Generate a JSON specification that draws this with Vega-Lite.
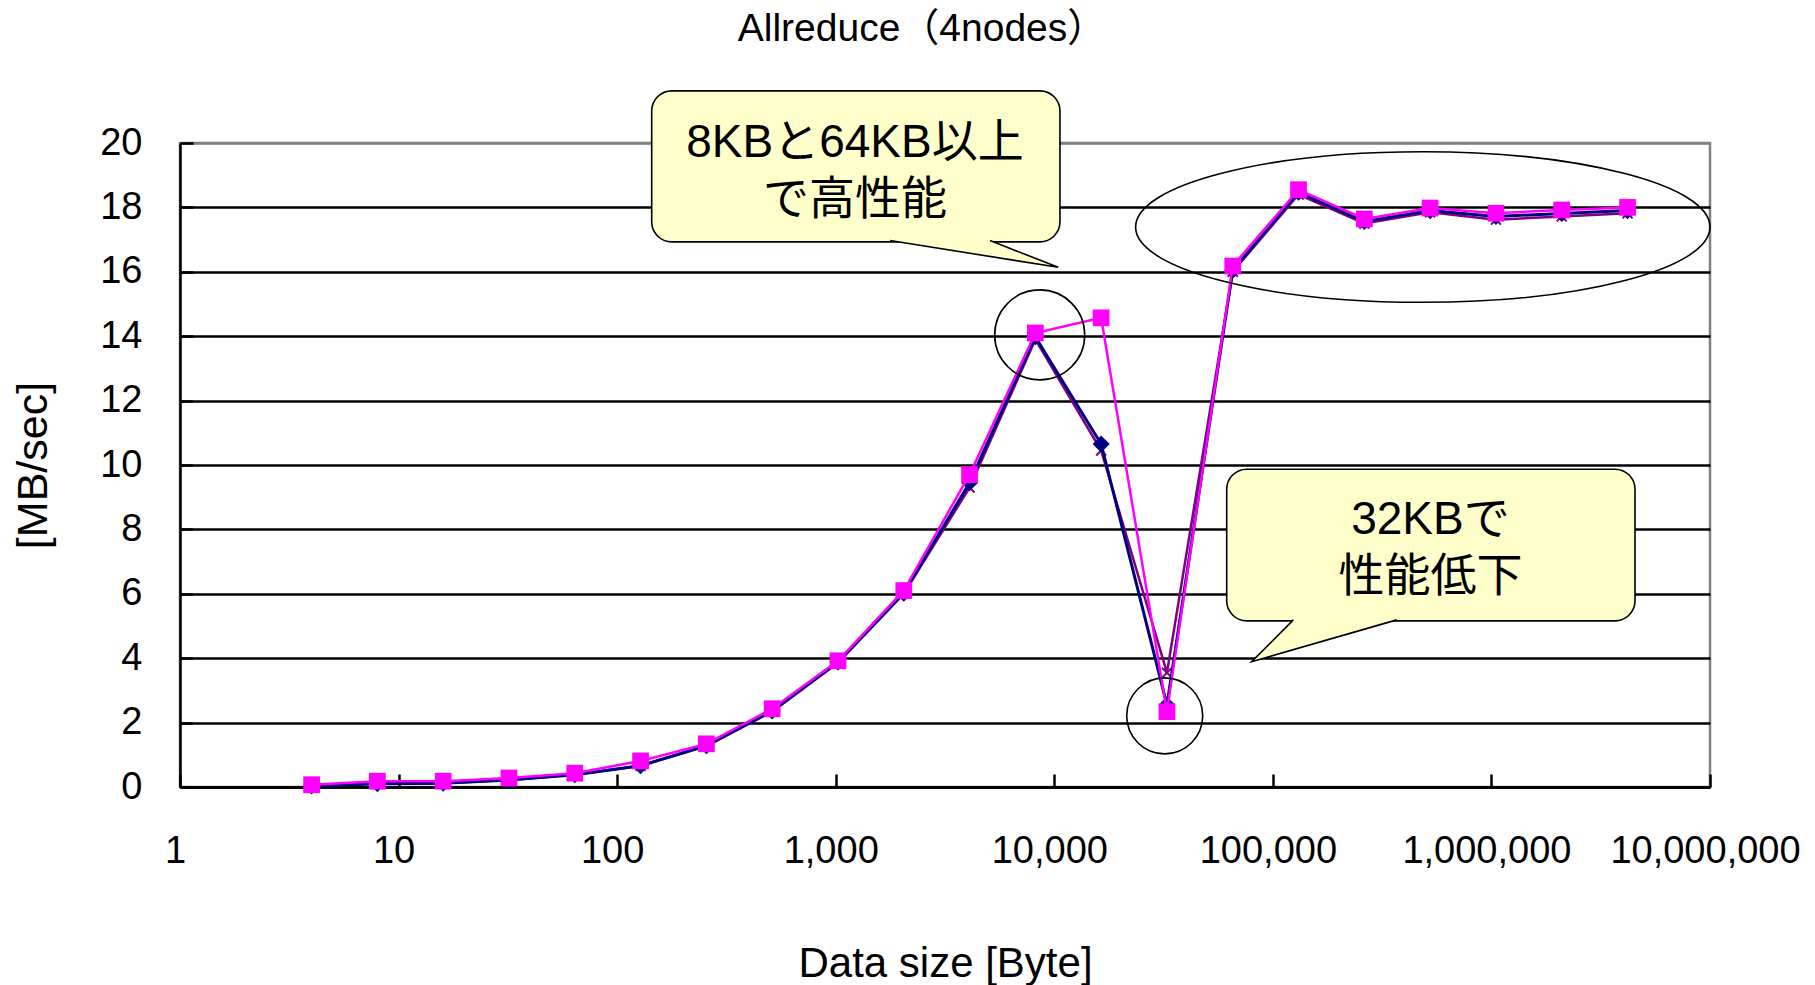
{
  "$schema": "https://vega.github.io/schema/vega-lite/v6.json",
  "autosize": "none",
  "width": 1530,
  "height": 644,
  "padding": {"left": 180, "top": 143, "right": 105, "bottom": 198},
  "background": "white",
  "config": {
    "view": {"stroke": "#808080", "strokeWidth": 2.5},
    "font": "Liberation Sans, Noto Sans CJK JP"
  },
  "title": {
    "text": "Allreduce（4nodes）",
    "font": "Liberation Sans, Noto Sans CJK JP",
    "fontSize": 39,
    "fontWeight": "normal",
    "color": "black",
    "baseline": "bottom",
    "offset": 2,
    "dx": -23
  },
  "datasets": {
    "perf": [
      {"size": 4, "series": "A", "mbps": 0.03}, {"size": 8, "series": "A", "mbps": 0.10}, {"size": 16, "series": "A", "mbps": 0.12}, {"size": 32, "series": "A", "mbps": 0.22}, {"size": 64, "series": "A", "mbps": 0.38}, {"size": 128, "series": "A", "mbps": 0.66}, {"size": 256, "series": "A", "mbps": 1.28}, {"size": 512, "series": "A", "mbps": 2.36}, {"size": 1024, "series": "A", "mbps": 3.88}, {"size": 2048, "series": "A", "mbps": 6.02}, {"size": 4096, "series": "A", "mbps": 9.45}, {"size": 8192, "series": "A", "mbps": 13.98}, {"size": 16384, "series": "A", "mbps": 10.65}, {"size": 32768, "series": "A", "mbps": 2.55}, {"size": 65536, "series": "A", "mbps": 16.05}, {"size": 131072, "series": "A", "mbps": 18.47}, {"size": 262144, "series": "A", "mbps": 17.56}, {"size": 524288, "series": "A", "mbps": 17.90}, {"size": 1048576, "series": "A", "mbps": 17.72}, {"size": 2097152, "series": "A", "mbps": 17.81}, {"size": 4194304, "series": "A", "mbps": 17.90},
      {"size": 4, "series": "B", "mbps": 0.07}, {"size": 8, "series": "B", "mbps": 0.18}, {"size": 16, "series": "B", "mbps": 0.18}, {"size": 32, "series": "B", "mbps": 0.28}, {"size": 64, "series": "B", "mbps": 0.43}, {"size": 128, "series": "B", "mbps": 0.81}, {"size": 256, "series": "B", "mbps": 1.34}, {"size": 512, "series": "B", "mbps": 2.43}, {"size": 1024, "series": "B", "mbps": 3.92}, {"size": 2048, "series": "B", "mbps": 6.10}, {"size": 4096, "series": "B", "mbps": 9.70}, {"size": 8192, "series": "B", "mbps": 14.10}, {"size": 16384, "series": "B", "mbps": 14.57}, {"size": 32768, "series": "B", "mbps": 2.34}, {"size": 65536, "series": "B", "mbps": 16.18}, {"size": 131072, "series": "B", "mbps": 18.55}, {"size": 262144, "series": "B", "mbps": 17.64}, {"size": 524288, "series": "B", "mbps": 17.98}, {"size": 1048576, "series": "B", "mbps": 17.82}, {"size": 2097152, "series": "B", "mbps": 17.92}, {"size": 4194304, "series": "B", "mbps": 18.00},
      {"size": 4, "series": "C", "mbps": 0.03}, {"size": 8, "series": "C", "mbps": 0.10}, {"size": 16, "series": "C", "mbps": 0.12}, {"size": 32, "series": "C", "mbps": 0.22}, {"size": 64, "series": "C", "mbps": 0.38}, {"size": 128, "series": "C", "mbps": 0.66}, {"size": 256, "series": "C", "mbps": 1.28}, {"size": 512, "series": "C", "mbps": 2.34}, {"size": 1024, "series": "C", "mbps": 3.86}, {"size": 2048, "series": "C", "mbps": 6.00}, {"size": 4096, "series": "C", "mbps": 9.30}, {"size": 8192, "series": "C", "mbps": 13.90}, {"size": 16384, "series": "C", "mbps": 10.45}, {"size": 32768, "series": "C", "mbps": 3.55}, {"size": 65536, "series": "C", "mbps": 16.00}, {"size": 131072, "series": "C", "mbps": 18.40}, {"size": 262144, "series": "C", "mbps": 17.50}, {"size": 524288, "series": "C", "mbps": 17.85}, {"size": 1048576, "series": "C", "mbps": 17.62}, {"size": 2097152, "series": "C", "mbps": 17.72}, {"size": 4194304, "series": "C", "mbps": 17.82}
    ],
    "boxes": [
      {"id": "b1", "x1": 143.9, "x2": 10617, "y1": 21.62, "y2": 16.93},
      {"id": "b2", "x1": 61500, "x2": 4538000, "y1": 9.87, "y2": 5.16}
    ],
    "pointers": [
      {"cid": "p1", "ord": 1, "px": 1771, "py": 16.97},
      {"cid": "p1", "ord": 2, "px": 10428, "py": 16.14},
      {"cid": "p1", "ord": 3, "px": 5081, "py": 16.97},
      {"cid": "p2", "ord": 1, "px": 124100, "py": 5.19},
      {"cid": "p2", "ord": 2, "px": 80000, "py": 3.89},
      {"cid": "p2", "ord": 3, "px": 368800, "py": 5.19}
    ],
    "labels": [
      {"tx": 1225, "ty": 20.0, "label": "8KBと64KB以上\nで高性能"},
      {"tx": 526000, "ty": 8.3, "label": "32KBで\n性能低下"}
    ],
    "rings": [
      {"name": "ellipse", "rx": 485300, "ry": 17.39},
      {"name": "peak", "rx": 8576, "ry": 14.04},
      {"name": "dip", "rx": 32000, "ry": 2.21}
    ]
  },
  "layer": [
    {
      "data": {"name": "perf"},
      "transform": [{"filter": "datum.series === 'C'"}],
      "mark": {"type": "line", "color": "#800080", "strokeWidth": 2.5},
      "encoding": {
        "x": {
          "field": "size", "type": "quantitative",
          "scale": {"type": "log", "domain": [1, 10000000], "nice": false},
          "axis": {
            "values": [1, 10, 100, 1000, 10000, 100000, 1000000, 10000000],
            "format": ",d",
            "labelFont": "Liberation Sans",
            "labelFontSize": 38,
            "labelColor": "black",
            "labelPadding": 58,
            "labelOffset": -5,
            "labelFlush": false,
            "labelOverlap": false,
            "labelLimit": 0,
            "tickSize": -13,
            "tickColor": "black",
            "tickWidth": 2.5,
            "domainColor": "black",
            "domainWidth": 2.5,
            "grid": false,
            "title": "Data size [Byte]",
            "titleFont": "Liberation Sans",
            "titleFontSize": 42,
            "titleFontWeight": "normal",
            "titleColor": "black",
            "titlePadding": 73
          }
        },
        "y": {
          "field": "mbps", "type": "quantitative",
          "scale": {"domain": [0, 20], "nice": false, "zero": true},
          "axis": {
            "values": [0, 2, 4, 6, 8, 10, 12, 14, 16, 18, 20],
            "labelFont": "Liberation Sans",
            "labelFontSize": 38,
            "labelColor": "black",
            "labelPadding": 51,
            "labelFlush": false,
            "labelOverlap": false,
            "tickSize": -13,
            "tickColor": "black",
            "tickWidth": 2.5,
            "domainColor": "black",
            "domainWidth": 2.5,
            "grid": true,
            "gridColor": {"condition": {"test": "datum.value === 20", "value": "#808080"}, "value": "black"},
            "gridWidth": 2.5,
            "gridOpacity": 1,
            "title": "[MB/sec]",
            "titleFont": "Liberation Sans",
            "titleFontSize": 43,
            "titleFontWeight": "normal",
            "titleColor": "black",
            "titlePadding": 44
          }
        }
      }
    },
    {
      "data": {"name": "perf"},
      "transform": [{"filter": "datum.series === 'C'"}],
      "mark": {"type": "point", "shape": "M-1,-1L1,1M-1,1L1,-1", "filled": false, "color": "#800080", "strokeWidth": 2, "size": 100, "opacity": 1},
      "encoding": {
        "x": {"field": "size", "type": "quantitative"},
        "y": {"field": "mbps", "type": "quantitative"}
      }
    },
    {
      "data": {"name": "perf"},
      "transform": [{"filter": "datum.series === 'A'"}],
      "mark": {"type": "line", "color": "#000080", "strokeWidth": 3},
      "encoding": {
        "x": {"field": "size", "type": "quantitative"},
        "y": {"field": "mbps", "type": "quantitative"}
      }
    },
    {
      "data": {"name": "perf"},
      "transform": [{"filter": "datum.series === 'A'"}],
      "mark": {"type": "point", "shape": "diamond", "filled": true, "color": "#000080", "size": 290, "opacity": 1},
      "encoding": {
        "x": {"field": "size", "type": "quantitative"},
        "y": {"field": "mbps", "type": "quantitative"}
      }
    },
    {
      "data": {"name": "perf"},
      "transform": [{"filter": "datum.series === 'B'"}],
      "mark": {"type": "line", "color": "#FF00FF", "strokeWidth": 2.5},
      "encoding": {
        "x": {"field": "size", "type": "quantitative"},
        "y": {"field": "mbps", "type": "quantitative"}
      }
    },
    {
      "data": {"name": "perf"},
      "transform": [{"filter": "datum.series === 'B'"}],
      "mark": {"type": "point", "shape": "square", "filled": true, "color": "#FF00FF", "size": 280, "opacity": 1},
      "encoding": {
        "x": {"field": "size", "type": "quantitative"},
        "y": {"field": "mbps", "type": "quantitative"}
      }
    },
    {
      "data": {"name": "rings"},
      "transform": [{"filter": "datum.name === 'ellipse'"}],
      "mark": {"type": "point", "shape": "M-1,0A1,0.262,0,1,0,1,0A1,0.262,0,1,0,-1,0Z", "filled": false, "stroke": "black", "strokeWidth": 1.6, "size": 329935, "opacity": 1},
      "encoding": {
        "x": {"field": "rx", "type": "quantitative"},
        "y": {"field": "ry", "type": "quantitative"}
      }
    },
    {
      "data": {"name": "rings"},
      "transform": [{"filter": "datum.name === 'peak'"}],
      "mark": {"type": "point", "shape": "circle", "filled": false, "stroke": "black", "strokeWidth": 1.6, "size": 8100, "opacity": 1},
      "encoding": {
        "x": {"field": "rx", "type": "quantitative"},
        "y": {"field": "ry", "type": "quantitative"}
      }
    },
    {
      "data": {"name": "rings"},
      "transform": [{"filter": "datum.name === 'dip'"}],
      "mark": {"type": "point", "shape": "circle", "filled": false, "stroke": "black", "strokeWidth": 1.6, "size": 5776, "opacity": 1},
      "encoding": {
        "x": {"field": "rx", "type": "quantitative"},
        "y": {"field": "ry", "type": "quantitative"}
      }
    },
    {
      "data": {"name": "boxes"},
      "mark": {"type": "rect", "fill": "#FFFFCC", "stroke": "black", "strokeWidth": 1.6, "cornerRadius": 20},
      "encoding": {
        "x": {"field": "x1", "type": "quantitative"},
        "x2": {"field": "x2"},
        "y": {"field": "y1", "type": "quantitative"},
        "y2": {"field": "y2"}
      }
    },
    {
      "data": {"name": "pointers"},
      "mark": {"type": "line", "fill": "#FFFFCC", "stroke": "black", "strokeWidth": 1.6},
      "encoding": {
        "x": {"field": "px", "type": "quantitative"},
        "y": {"field": "py", "type": "quantitative"},
        "detail": {"field": "cid"},
        "order": {"field": "ord", "type": "quantitative"}
      }
    },
    {
      "data": {"name": "labels"},
      "mark": {"type": "text", "font": "Liberation Sans, Noto Sans CJK JP", "fontSize": 46, "lineBreak": "\n", "lineHeight": 57, "align": "center", "baseline": "middle", "color": "black"},
      "encoding": {
        "x": {"field": "tx", "type": "quantitative"},
        "y": {"field": "ty", "type": "quantitative"},
        "text": {"field": "label"}
      }
    }
  ]
}
